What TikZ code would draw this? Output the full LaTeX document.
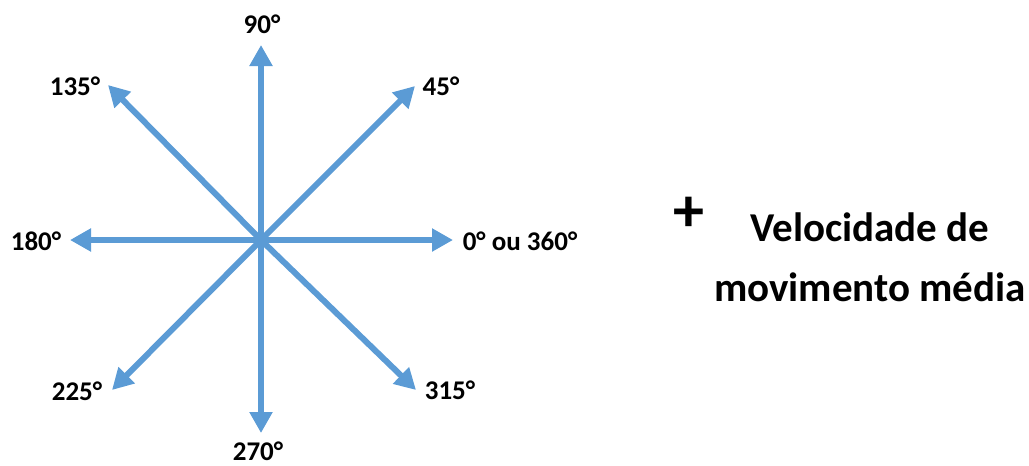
\documentclass[tikz,border=0pt]{standalone}
\usepackage{fontspec}
\setmainfont{Carlito}
\usetikzlibrary{arrows.meta}
\definecolor{arrowblue}{HTML}{5B9BD5}
\tikzset{
  dirarrow/.style={draw=arrowblue, line width=6pt, -{Triangle[length=21pt,width=22pt]}},
  anglelabel/.style={font=\fontsize{27}{30}\selectfont\bfseries, inner sep=0pt},
  bigtext/.style={font=\fontsize{41}{60}\selectfont\bfseries, inner sep=0pt, align=center},
  plussign/.style={font=\fontsize{62}{62}\selectfont\bfseries, inner sep=0pt}
}
\begin{document}
\begin{tikzpicture}[x=1pt,y=-1pt]
\useasboundingbox (0,0) rectangle (1029,466);
\coordinate (c) at (261,240);
\coordinate (e0) at (453,240);
\coordinate (e45) at (415,86);
\coordinate (e90) at (261,45);
\coordinate (e135) at (108,85);
\coordinate (e180) at (70,240);
\coordinate (e225) at (112,390);
\coordinate (e270) at (261,433);
\coordinate (e315) at (416,390);
\foreach \e in {e0,e45,e90,e135,e180,e225,e270,e315}
  \draw[dirarrow] (c) -- (\e);
\node[anglelabel] (l90) at (262,24) {90°};
\node[anglelabel] (l45) at (441,86) {45°};
\node[anglelabel] (l135) at (75,86) {135°};
\node[anglelabel] (l180) at (36,241) {180°};
\node[anglelabel] (l0) at (520,241) {0° ou 360°};
\node[anglelabel] (l225) at (77,391) {225°};
\node[anglelabel] (l315) at (450,390) {315°};
\node[anglelabel] (l270) at (258,451) {270°};
\node[plussign] (plus) at (689,214) {+};
\node[bigtext] (vel) at (870,257) {Velocidade de\\movimento média};
\end{tikzpicture}
\end{document}
